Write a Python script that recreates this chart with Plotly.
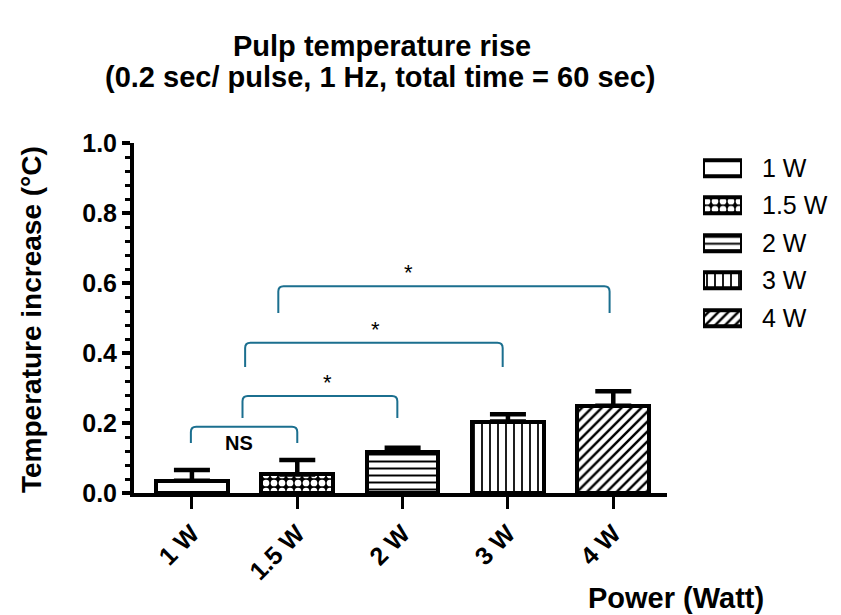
import plotly.graph_objects as go

# data
powers = ["1 W", "1.5 W", "2 W", "3 W", "4 W"]
temp_rise = [0.035, 0.053, 0.116, 0.204, 0.249]
temp_err = [0.031, 0.041, 0.013, 0.021, 0.042]
patterns = ["", ".", "-", "|", "/"]
pattern_size = [8, 8, 7, 8, 7]
pattern_solid = [0.2, 0.55, 0.28, 0.22, 0.35]
pattern_fg = ["black", "white", "black", "black", "black"]
pattern_bg = ["white", "black", "white", "white", "white"]

# significance brackets (x in category index, y in data units)
br_x0 = [-0.01, 0.48, 0.505, 0.82]
br_x1 = [1.0, 1.95, 2.95, 3.965]
br_top = [0.189, 0.277, 0.429, 0.591]
br_low = [0.143, 0.214, 0.360, 0.514]
br_label = ["NS", "*", "*", "*"]
br_label_x = [0.45, 1.29, 1.74, 2.06]
br_label_y = [0.143, 0.317, 0.466, 0.629]

FONT = "Liberation Sans, Arial, sans-serif"
TEAL = "#1b6f8f"
xs = list(range(len(powers)))

# page pixels -> paper fractions (plot area spans x 134..821, y 143..493 on the page)
def px(x):
    return (x - 134) / 687

def py(y):
    return (493 - y) / 350

fig = go.Figure()

bar_pattern = dict(shape=patterns, size=pattern_size, solidity=pattern_solid,
                   fgcolor=pattern_fg, bgcolor=pattern_bg, fillmode="replace")

# main bars
fig.add_trace(go.Bar(
    x=xs, y=temp_rise, width=0.68,
    marker=dict(color="white", line=dict(color="black", width=4), pattern=bar_pattern),
    error_y=dict(type="data", array=temp_err, arrayminus=[0] * len(powers), symmetric=False,
                 thickness=4.5, width=18, color="black"),
    showlegend=False, xaxis="x", yaxis="y",
))

# legend swatches drawn as bars on a small side axis
fig.add_trace(go.Bar(
    y=powers, x=[1] * len(powers), orientation="h", width=0.43,
    marker=dict(color="white", line=dict(color="black", width=4), pattern=bar_pattern),
    showlegend=False, xaxis="x2", yaxis="y2",
))

shapes = []
annotations = []
rx, ry = 0.05, 0.015
for x0, x1, yt, yl, lab, lx, ly in zip(br_x0, br_x1, br_top, br_low, br_label, br_label_x, br_label_y):
    path = (f"M {x0},{yl} L {x0},{yt - ry} Q {x0},{yt} {x0 + rx},{yt} "
            f"L {x1 - rx},{yt} Q {x1},{yt} {x1},{yt - ry} L {x1},{yl}")
    shapes.append(dict(type="path", path=path, xref="x", yref="y",
                       line=dict(color=TEAL, width=2)))
    if lab == "NS":
        annotations.append(dict(x=lx, y=ly, xref="x", yref="y", text="<b>NS</b>", showarrow=False,
                                yanchor="middle", font=dict(family=FONT, size=20, color="black")))
    else:
        annotations.append(dict(x=lx, y=ly, xref="x", yref="y", text=lab, showarrow=False,
                                yanchor="middle", font=dict(family=FONT, size=22, color="black")))

# titles
annotations += [
    dict(x=px(382), y=py(46), xref="paper", yref="paper", showarrow=False,
         xanchor="center", yanchor="middle",
         text="<b>Pulp temperature rise</b>", font=dict(family=FONT, size=29, color="black")),
    dict(x=px(380), y=py(77), xref="paper", yref="paper", showarrow=False,
         xanchor="center", yanchor="middle",
         text="<b>(0.2 sec/ pulse, 1 Hz, total time = 60 sec)</b>",
         font=dict(family=FONT, size=29, color="black")),
    dict(x=px(31), y=py(320), xref="paper", yref="paper", showarrow=False, textangle=-90,
         xanchor="center", yanchor="middle",
         text="<b>Temperature increase (°C)</b>", font=dict(family=FONT, size=28, color="black")),
    dict(x=px(676), y=py(598), xref="paper", yref="paper", showarrow=False,
         xanchor="center", yanchor="middle",
         text="<b>Power (Watt)</b>", font=dict(family=FONT, size=29, color="black")),
]

# the page body adds an 8 px margin, so the figure is shifted and margins reduced by 8 px
fig.update_layout(
    width=833, height=607,
    margin=dict(l=126, r=20, t=135, b=122, autoexpand=False),
    paper_bgcolor="white", plot_bgcolor="white",
    shapes=shapes, annotations=annotations,
    bargap=0,
    xaxis=dict(domain=[0, px(667)], range=[-0.55, 4.51],
               tickvals=xs, ticktext=powers, tickangle=-45,
               tickfont=dict(family=FONT, size=25, color="black", weight="bold"),
               showline=True, linecolor="black", linewidth=4,
               ticks="outside", ticklen=12, tickwidth=3, tickcolor="black",
               showgrid=False, zeroline=False),
    yaxis=dict(range=[0, 1.0], dtick=0.2, tickformat=".1f",
               tickfont=dict(family=FONT, size=25, color="black", weight="bold"),
               showline=True, linecolor="black", linewidth=4,
               ticks="outside", ticklen=8, tickwidth=4, tickcolor="black",
               minor=dict(dtick=0.04, ticks="outside", ticklen=5, tickwidth=3, tickcolor="black"),
               showgrid=False, zeroline=False),
    xaxis2=dict(domain=[px(703), px(742)], range=[0, 1], anchor="y2", visible=False),
    yaxis2=dict(domain=[py(336.75), py(149.25)], anchor="x2", side="right",
                autorange="reversed", showline=False, ticks="", showgrid=False, zeroline=False,
                ticklabelstandoff=19,
                tickfont=dict(family=FONT, size=25, color="black")),
)

fig.write_html("out.html")
